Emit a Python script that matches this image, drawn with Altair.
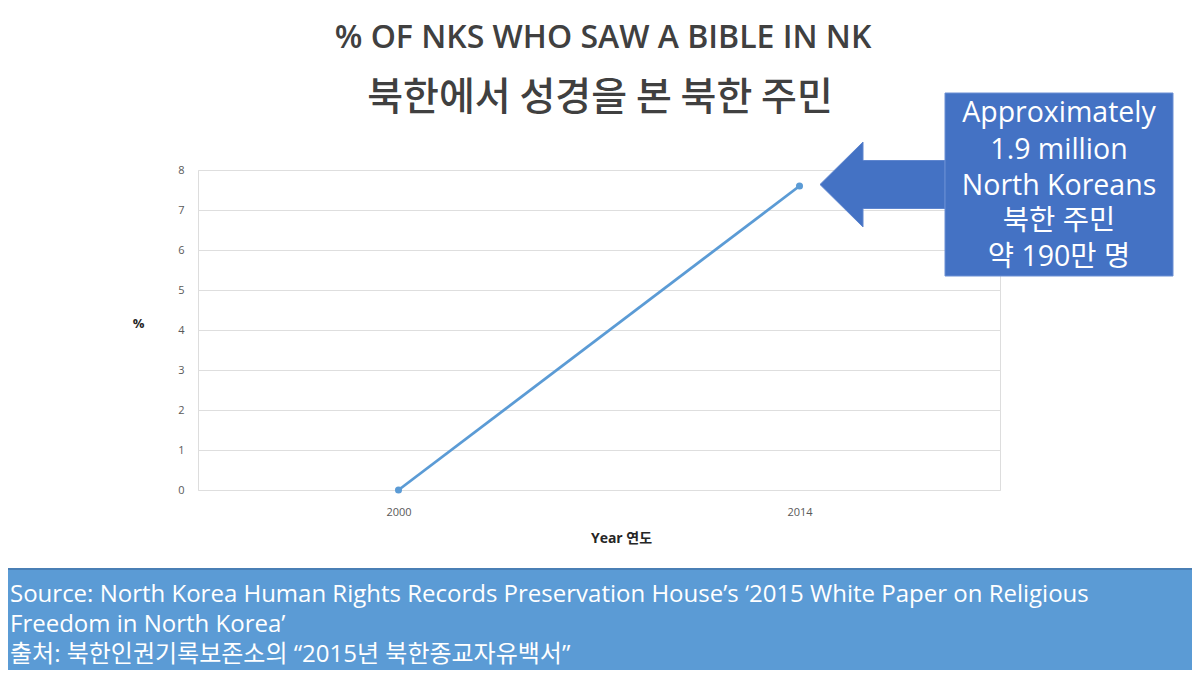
import altair as alt
import pandas as pd

# ---- data ----
years = ["2000", "2014"]
pct = [0, 7.6]

title_line = "% OF NKS WHO SAW A BIBLE IN NK"
subtitle_line = "북한에서 성경을 본 북한 주민"
callout_lines = ["Approximately", "1.9 million", "North Koreans", "북한 주민", "약 190만 명"]
footer_lines = [
    "Source: North Korea Human Rights Records Preservation House\u2019s \u20182015 White Paper on Religious",
    "Freedom in North Korea\u2019",
    "출처: 북한인권기록보존소의 \u201c2015년 북한종교자유백서\u201d",
]
y_title = "%"
x_title = "Year 연도"

FONT = "Open Sans, Noto Sans CJK KR, sans-serif"
W, H = 802, 320

df = pd.DataFrame({"year": years, "pct": pct})

base = alt.Chart(df)

x_enc = alt.X(
    "year:N",
    scale=alt.Scale(type="point", padding=0.5),
    axis=alt.Axis(
        title=x_title, labelAngle=0, ticks=False, tickSize=0, domain=False, grid=False,
        labelPadding=16, labelColor="#595959", labelFontSize=11, labelFont=FONT,
        titleFont=FONT, titleFontSize=14, titleFontWeight="bold", titleColor="#262626",
        titleX=423, titleY=48, titleBaseline="middle", titleAnchor="start", titleAlign="center",
    ),
)
y_enc = alt.Y(
    "pct:Q",
    scale=alt.Scale(domain=[0, 8]),
    axis=alt.Axis(
        title=y_title, values=list(range(0, 9)), ticks=False, tickSize=0, domain=False,
        labelPadding=14, labelColor="#595959", labelFontSize=11, labelFont=FONT,
        gridColor="#dedede", gridWidth=1,
        titleFont=FONT, titleFontSize=13, titleFontWeight="bold", titleColor="#262626",
        titleAngle=0, titleX=-60, titleY=153, titleAlign="center", titleBaseline="middle",
    ),
)

line = base.mark_line(color="#5b9bd5", strokeWidth=2.8).encode(x=x_enc, y=y_enc)
pts = base.mark_point(filled=True, color="#5b9bd5", size=50, opacity=1).encode(x=x_enc, y=y_enc)

# ---- annotations ----
title_df = pd.DataFrame({"t": [title_line]})
title = alt.Chart(title_df).mark_text(
    font=FONT, fontSize=32, fontWeight=600, color="#404040", align="center", baseline="middle"
).encode(text="t:N", x=alt.value(405), y=alt.value(-132))

sub_df = pd.DataFrame({"t": [subtitle_line]})
subtitle = alt.Chart(sub_df).mark_text(
    font="Noto Sans CJK KR", fontSize=39, fontWeight=500, color="#404040", align="center", baseline="middle"
).encode(text="t:N", x=alt.value(402), y=alt.value(-72))

arrow_path = "M-1,0 L-0.312,-0.68 L-0.312,-0.384 L1,-0.384 L1,0.384 L-0.312,0.384 L-0.312,0.68 Z"
arrow = alt.Chart(pd.DataFrame({"a": [1]})).mark_point(
    shape=arrow_path, filled=True, fill="#4472c4", stroke="#5f86cf", strokeWidth=1, opacity=1, size=15625
).encode(x=alt.value(684.5), y=alt.value(14.5))

box = alt.Chart(pd.DataFrame({"a": [1]})).mark_rect(
    color="#4472c4", stroke="#6b8fd4", strokeWidth=1
).encode(x=alt.value(747), x2=alt.value(975), y=alt.value(-77), y2=alt.value(106))

call_df = pd.DataFrame({"t": callout_lines})
call_df["py"] = [-57, -20, 16, 51, 87]
callout = alt.Chart(call_df).mark_text(
    font=FONT, fontSize=28.5, color="white", align="center", baseline="middle"
).encode(text="t:N", x=alt.value(861), y=alt.Y("py:Q", scale=None))

footer_bg = alt.Chart(pd.DataFrame({"a": [1]})).mark_rect(
    color="#5b9bd5"
).encode(x=alt.value(-190), x2=alt.value(994), y=alt.value(399), y2=alt.value(500))
footer_top = alt.Chart(pd.DataFrame({"a": [1]})).mark_rule(
    color="#4a7fb5", strokeWidth=2
).encode(x=alt.value(-190), x2=alt.value(994), y=alt.value(399))

foot_df = pd.DataFrame({"t": footer_lines})
foot_df["py"] = [425, 455, 485]
footer = alt.Chart(foot_df).mark_text(
    font=FONT, fontSize=24, color="white", align="left", baseline="middle"
).encode(text="t:N", x=alt.value(-188), y=alt.Y("py:Q", scale=None))

chart = alt.layer(
    line, pts, arrow, box, callout, title, subtitle, footer_bg, footer_top, footer
).properties(
    width=W, height=H,
    autosize=alt.AutoSizeParams(type="none"),
    padding={"left": 190, "top": 162, "right": 192, "bottom": 180},
).configure_view(strokeOpacity=0, strokeWidth=0, clip=False).configure(background="white")

chart.save("out.html", embed_options={"renderer": "svg", "actions": False})
